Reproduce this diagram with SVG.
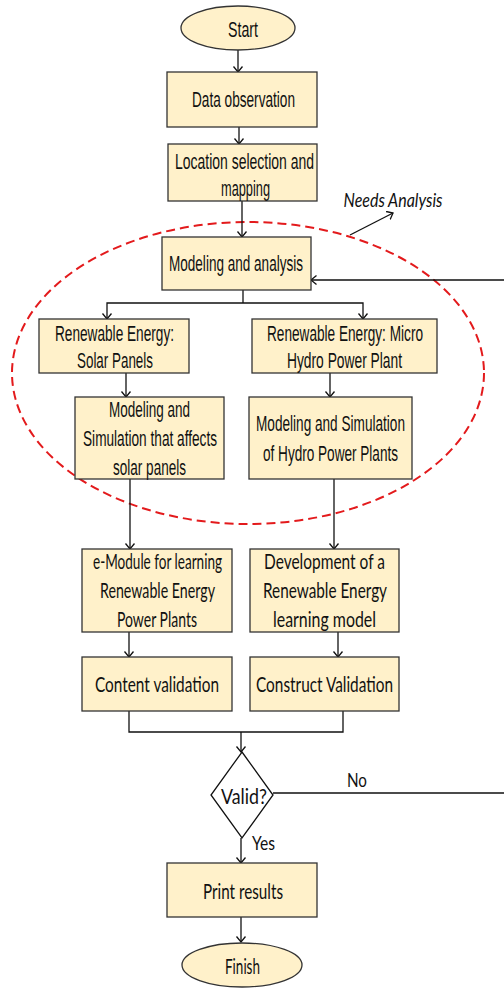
<svg xmlns="http://www.w3.org/2000/svg" width="504" height="988" viewBox="0 0 504 988">
  <style>
    .box { fill: #FFF1CA; stroke: #333333; stroke-width: 1.3; }
    .term { fill: #FFF1CA; stroke: #333333; stroke-width: 1.3; }
    .dec { fill: #FFFFFF; stroke: #111111; stroke-width: 1.3; }
    .t { font-family: "Liberation Sans", Arial, sans-serif; font-size: 22px; fill: #111111; text-anchor: middle; }
    .c { font-family: Lato, "Liberation Sans", sans-serif; font-size: 22px; fill: #111111; text-anchor: middle; }
    .lbl { font-family: Lato, "Liberation Sans", sans-serif; font-size: 19px; fill: #111111; text-anchor: middle; }
    .note { font-family: Lato, "Liberation Sans", sans-serif; font-size: 19px; font-style: italic; fill: #111111; text-anchor: middle; }
    .conn { fill: none; stroke: #111111; stroke-width: 1.3; }
    .arrow { marker-end: url(#open); }
    .group-ring { fill: none; stroke: #E31A1C; stroke-width: 2; stroke-dasharray: 9 5; }
  </style>
  <defs>
    <marker id="open" markerUnits="userSpaceOnUse" markerWidth="12" markerHeight="12" refX="6" refY="5" orient="auto">
      <path d="M0.5,0.5 L6,5 L0.5,9.5" fill="none" stroke="#111111" stroke-width="1.3"/>
    </marker>
  </defs>

  <!-- needs-analysis boundary -->
  <ellipse class="group-ring" cx="248" cy="373" rx="236" ry="151"/>

  <g id="connectors">
    <path class="conn arrow" d="M238,50 V72"/>
    <path class="conn arrow" d="M239,127 V144"/>
    <path class="conn arrow" d="M242,201 V237"/>
    <path class="conn" d="M243,290 V303"/>
    <path class="conn arrow" d="M243,303 H107 V319"/>
    <path class="conn arrow" d="M243,303 H363 V319"/>
    <path class="conn arrow" d="M126,373 V397"/>
    <path class="conn arrow" d="M330,373 V397"/>
    <path class="conn arrow" d="M130,479 V549"/>
    <path class="conn arrow" d="M334,479 V549"/>
    <path class="conn arrow" d="M129,632 V657"/>
    <path class="conn arrow" d="M338,632 V657"/>
    <path class="conn" d="M129,711 V732 H343 V711"/>
    <path class="conn arrow" d="M241,732 V752"/>
    <path class="conn arrow" d="M241,838 V863"/>
    <path class="conn arrow" d="M241,917 V942"/>
    <!-- "No" loop back to modeling and analysis -->
    <path class="conn arrow" d="M273,793 H520 V280 H311"/>
    <!-- callout for the dashed group -->
    <path class="conn arrow" d="M350,235 L393,213"/>
  </g>

  <g id="needs-analysis">
    <text class="note" x="393" y="207" textLength="99" lengthAdjust="spacingAndGlyphs">Needs Analysis</text>
  </g>

  <g id="start">
    <ellipse class="term" cx="238" cy="28" rx="57" ry="22"/>
    <text class="t" x="243" y="36.5" textLength="30" lengthAdjust="spacingAndGlyphs">Start</text>
  </g>

  <g id="data-observation">
    <rect class="box" x="167" y="72" width="150" height="55"/>
    <text class="t" x="243.5" y="107" textLength="103" lengthAdjust="spacingAndGlyphs">Data observation</text>
  </g>

  <g id="location">
    <rect class="box" x="168" y="144" width="149" height="57"/>
    <text class="t" x="244.5" y="168.5" textLength="139" lengthAdjust="spacingAndGlyphs">Location selection and</text>
    <text class="t" x="245.5" y="195.5" textLength="49" lengthAdjust="spacingAndGlyphs">mapping</text>
  </g>

  <g id="modeling-analysis">
    <rect class="box" x="162" y="237" width="149" height="53"/>
    <text class="t" x="236" y="271" textLength="134" lengthAdjust="spacingAndGlyphs">Modeling and analysis</text>
  </g>

  <g id="solar">
    <rect class="box" x="39" y="319" width="150" height="54"/>
    <text class="t" x="114.5" y="340.5" textLength="119" lengthAdjust="spacingAndGlyphs">Renewable Energy:</text>
    <text class="t" x="115" y="367.5" textLength="76" lengthAdjust="spacingAndGlyphs">Solar Panels</text>
  </g>

  <g id="micro-hydro">
    <rect class="box" x="252" y="319" width="185" height="54"/>
    <text class="t" x="345" y="340.5" textLength="156" lengthAdjust="spacingAndGlyphs">Renewable Energy: Micro</text>
    <text class="t" x="344.5" y="367.5" textLength="115" lengthAdjust="spacingAndGlyphs">Hydro Power Plant</text>
  </g>

  <g id="solar-simulation">
    <rect class="box" x="75" y="397" width="149" height="82"/>
    <text class="t" x="149.5" y="416.5" textLength="81" lengthAdjust="spacingAndGlyphs">Modeling and</text>
    <text class="t" x="150" y="445.5" textLength="134" lengthAdjust="spacingAndGlyphs">Simulation that affects</text>
    <text class="t" x="149.5" y="474.5" textLength="73" lengthAdjust="spacingAndGlyphs">solar panels</text>
  </g>

  <g id="hydro-simulation">
    <rect class="box" x="249" y="397" width="163" height="82"/>
    <text class="t" x="330.5" y="430.5" textLength="149" lengthAdjust="spacingAndGlyphs">Modeling and Simulation</text>
    <text class="t" x="330.5" y="460.5" textLength="135" lengthAdjust="spacingAndGlyphs">of Hydro Power Plants</text>
  </g>

  <g id="e-module">
    <rect class="box" x="82" y="549" width="150" height="83"/>
    <text class="c" x="157.5" y="569" textLength="129" lengthAdjust="spacingAndGlyphs">e-Module for learning</text>
    <text class="c" x="157.5" y="598" textLength="115" lengthAdjust="spacingAndGlyphs">Renewable Energy</text>
    <text class="c" x="157" y="626.5" textLength="80" lengthAdjust="spacingAndGlyphs">Power Plants</text>
  </g>

  <g id="learning-model">
    <rect class="box" x="250" y="549" width="149" height="83"/>
    <text class="c" x="324.5" y="569" textLength="121" lengthAdjust="spacingAndGlyphs">Development of a</text>
    <text class="c" x="325" y="598" textLength="124" lengthAdjust="spacingAndGlyphs">Renewable Energy</text>
    <text class="c" x="324.5" y="626.5" textLength="103" lengthAdjust="spacingAndGlyphs">learning model</text>
  </g>

  <g id="content-validation">
    <rect class="box" x="82" y="657" width="150" height="54"/>
    <text class="c" x="157" y="692" textLength="124" lengthAdjust="spacingAndGlyphs">Content validation</text>
  </g>

  <g id="construct-validation">
    <rect class="box" x="250" y="657" width="149" height="54"/>
    <text class="c" x="324.5" y="692" textLength="137" lengthAdjust="spacingAndGlyphs">Construct Validation</text>
  </g>

  <g id="valid">
    <polygon class="dec" points="242,752 273,795 242,838 211,795"/>
    <text class="c" x="244" y="803.5" textLength="46" lengthAdjust="spacingAndGlyphs">Valid?</text>
  </g>

  <g id="labels">
    <text class="lbl" x="357" y="787" textLength="20" lengthAdjust="spacingAndGlyphs">No</text>
    <text class="lbl" x="263.5" y="850" textLength="23" lengthAdjust="spacingAndGlyphs">Yes</text>
  </g>

  <g id="print-results">
    <rect class="box" x="167" y="863" width="150" height="54"/>
    <text class="c" x="243" y="898.5" textLength="80" lengthAdjust="spacingAndGlyphs">Print results</text>
  </g>

  <g id="finish">
    <ellipse class="term" cx="242" cy="965" rx="60" ry="22"/>
    <text class="c" x="242.5" y="974" textLength="35" lengthAdjust="spacingAndGlyphs">Finish</text>
  </g>
</svg>
